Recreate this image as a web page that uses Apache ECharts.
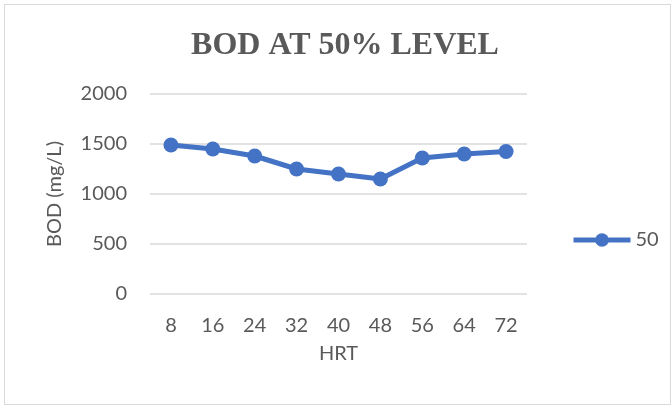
<!DOCTYPE html>
<html>
<head>
<meta charset="utf-8">
<script src="https://cdn.jsdelivr.net/npm/echarts@6/dist/echarts.min.js"></script>
<style>
	html, body { margin: 0; padding: 0; background: #fff; }
	#box {
		position: absolute; left: 4px; top: 4px; width: 667px; height: 401px;
		border: 1px solid #d9d9d9; box-sizing: border-box;
	}
	#chart { position: absolute; left: 0; top: 0; width: 672px; height: 409px; }
</style>
</head>
<body>
<div id="box"></div>
<div id="chart"></div>
<script>
	// data
	var hrt = ['8', '16', '24', '32', '40', '48', '56', '64', '72'];
	var bod50 = [1490, 1450, 1380, 1250, 1200, 1150, 1360, 1400, 1425];
	var seriesName = '50';

	var chart = echarts.init(document.getElementById('chart'));
	var labelFont = 'Lato, "Open Sans", sans-serif';
	chart.setOption({
		animation: false,
		title: {
			text: 'BOD AT 50% LEVEL',
			left: 340,
			textAlign: 'center',
			top: 25,
			textStyle: {
				fontFamily: '"Liberation Serif", "Times New Roman", serif',
				fontWeight: 'bold',
				fontSize: 32,
				color: '#595959'
			}
		},
		legend: {
			data: [seriesName],
			left: 566,
			top: 225,
			itemWidth: 57,
			itemHeight: 17,
			itemGap: 4,
			lineStyle: { width: 5 },
			textStyle: { fontFamily: labelFont, fontSize: 20, color: '#595959' }
		},
		grid: { left: 150, right: 145, top: 94, bottom: 115 },
		xAxis: {
			type: 'category',
			data: hrt,
			name: 'HRT',
			nameLocation: 'middle',
			nameGap: 50,
			nameTextStyle: { fontFamily: labelFont, fontSize: 20, color: '#595959' },
			axisLine: { show: false },
			axisTick: { show: false },
			axisLabel: { fontFamily: labelFont, fontSize: 20, color: '#595959', margin: 22 }
		},
		yAxis: {
			type: 'value',
			min: 0,
			max: 2000,
			interval: 500,
			name: 'BOD (mg/L)',
			nameLocation: 'middle',
			nameGap: 85,
			nameTextStyle: { fontFamily: labelFont, fontSize: 20, color: '#595959' },
			axisLine: { show: false },
			axisTick: { show: false },
			axisLabel: {
				fontFamily: labelFont, fontSize: 20, color: '#595959', margin: 23,
				formatter: function (v) { return String(v); }
			},
			splitLine: { lineStyle: { color: '#d9d9d9', width: 1.5 } }
		},
		series: [{
			name: seriesName,
			type: 'line',
			data: bod50,
			symbol: 'circle',
			symbolSize: 15,
			color: '#4472C4',
			lineStyle: { width: 5, color: '#4472C4' },
			itemStyle: { color: '#4472C4' }
		}]
	});
</script>
</body>
</html>
